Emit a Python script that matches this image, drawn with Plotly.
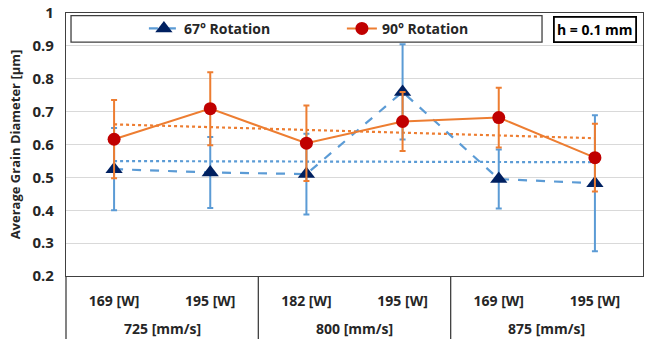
import numpy as np
import plotly.graph_objects as go

power_labels = ["169 [W]", "195 [W]", "182 [W]", "195 [W]", "169 [W]", "195 [W]"]
speed_labels = ["725 [mm/s]", "800 [mm/s]", "875 [mm/s]"]
rot67 = [0.525, 0.515, 0.51, 0.76, 0.495, 0.482]
rot67_err = [0.125, 0.108, 0.123, 0.145, 0.09, 0.207]
rot90 = [0.616, 0.709, 0.604, 0.670, 0.682, 0.560]
rot90_err = [0.119, 0.111, 0.115, 0.09, 0.091, 0.103]
y_ticks = [0.2, 0.3, 0.4, 0.5, 0.6, 0.7, 0.8, 0.9, 1.0]
y_tick_text = ["0.2", "0.3", "0.4", "0.5", "0.6", "0.7", "0.8", "0.9", "1"]

FONT = "Open Sans"
BLUE = "#5B9BD5"
NAVY = "#002060"
ORANGE = "#ED7D31"
RED = "#C00000"
FRAME = "#404040"

x = list(range(len(power_labels)))

# linear trendlines (as Excel does)
def trend(vals):
    k, b = np.polyfit(x, vals, 1)
    return [k * xi + b for xi in x]

fig = go.Figure()

fig.add_trace(go.Scatter(x=x, y=trend(rot67), mode="lines",
                         line=dict(color=BLUE, width=2.2, dash="dot"),
                         showlegend=False, hoverinfo="skip"))
fig.add_trace(go.Scatter(x=x, y=trend(rot90), mode="lines",
                         line=dict(color=ORANGE, width=2.2, dash="dot"),
                         showlegend=False, hoverinfo="skip"))

fig.add_trace(go.Scatter(
    x=x, y=rot67, mode="lines+markers", name="67° Rotation",
    line=dict(color=BLUE, width=2.2, dash="dash"),
    marker=dict(symbol="triangle-up", size=15, color=NAVY),
    error_y=dict(type="data", array=rot67_err, color=BLUE, thickness=2, width=3),
))
fig.add_trace(go.Scatter(
    x=x, y=rot90, mode="lines+markers", name="90° Rotation",
    line=dict(color=ORANGE, width=2),
    marker=dict(symbol="circle", size=13, color=RED),
    error_y=dict(type="data", array=rot90_err, color=ORANGE, thickness=2, width=3),
))

shapes = []
# legend frame
shapes.append(dict(type="rect", xref="paper", yref="paper",
                   x0=0.0087, x1=0.825, y0=0.889, y1=0.990,
                   line=dict(color=FRAME, width=1.3), fillcolor="white", layer="below"))
# group dividers below the axis
for xv in [1.5, 3.5]:
    shapes.append(dict(type="line", xref="x", yref="paper", x0=xv, x1=xv, y0=0, y1=-0.3,
                       line=dict(color=FRAME, width=1.3)))
shapes.append(dict(type="line", xref="paper", yref="paper", x0=0, x1=0, y0=0, y1=-0.3,
                   line=dict(color=FRAME, width=1.3)))

annotations = []
for i, s in enumerate(speed_labels):
    annotations.append(dict(x=2 * i + 0.5, y=-0.198, xref="x", yref="paper", text=s,
                            showarrow=False, yanchor="middle",
                            font=dict(family=FONT, size=14, color="#262626", weight="bold")))
annotations.append(dict(x=0.917, y=0.9365, xref="paper", yref="paper", text="h = 0.1 mm",
                        xanchor="center", yanchor="middle",
                        showarrow=False, width=78, height=21, bordercolor="#000000",
                        borderwidth=1.8, bgcolor="white",
                        font=dict(family=FONT, size=14, color="#000000", weight="bold")))

fig.update_layout(
    width=645, height=339,
    margin=dict(l=66, r=2, t=13, b=63),
    paper_bgcolor="white", plot_bgcolor="white",
    font=dict(family=FONT, color="#262626"),
    shapes=shapes, annotations=annotations,
    legend=dict(orientation="h", x=0.135, y=0.94, xanchor="left", yanchor="middle",
                entrywidth=153, entrywidthmode="pixels", bgcolor="rgba(0,0,0,0)",
                font=dict(family=FONT, size=14, color="#262626", weight="bold")),
)
fig.update_xaxes(range=[-0.5, 5.5], tickvals=x, ticktext=power_labels, showgrid=False,
                 zeroline=False, showline=True, linecolor=FRAME, linewidth=1.3, mirror=True,
                 ticks="", ticklabelstandoff=12,
                 tickfont=dict(family=FONT, size=14, color="#262626", weight="bold"))
fig.update_yaxes(range=[0.2, 1.0], tickvals=y_ticks, ticktext=y_tick_text,
                 showgrid=True, gridcolor="#D9D9D9", gridwidth=1, zeroline=False,
                 showline=True, linecolor=FRAME, linewidth=1.3, mirror=True, ticks="",
                 ticklabelstandoff=8,
                 tickfont=dict(family=FONT, size=15, color="#262626", weight="bold"),
                 title=dict(text="Average Grain Diameter [µm]", standoff=8,
                            font=dict(family=FONT, size=13, color="#262626", weight="bold")))

fig.write_html("out.html")
